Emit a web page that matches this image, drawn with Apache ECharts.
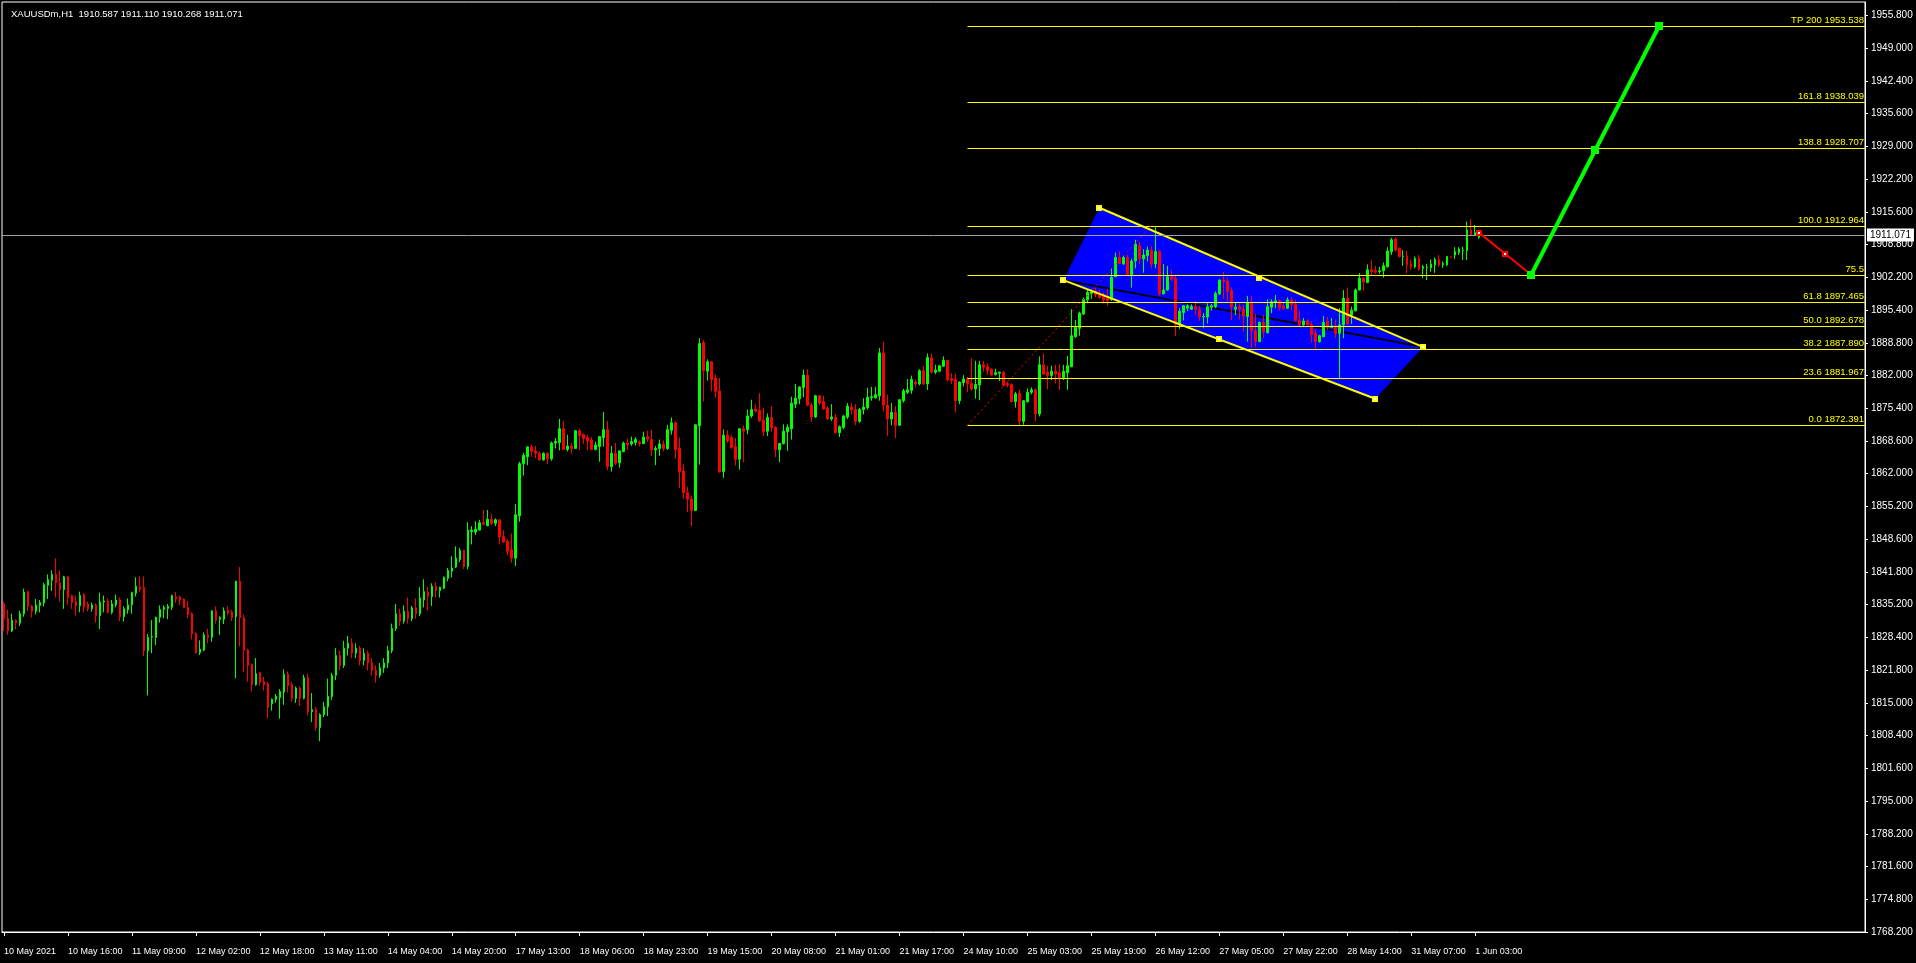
<!DOCTYPE html>
<html><head><meta charset="utf-8">
<script src="https://cdn.jsdelivr.net/npm/echarts@6/dist/echarts.min.js"></script>
<style>html,body{margin:0;padding:0;background:#000;}#chart{width:1916px;height:963px;}</style>
</head><body><div id="chart"></div>
<script>
const SYMBOL = 'XAUUSDm,H1';
const FONT = '"Liberation Sans", Arial, sans-serif';
// price axis labels, top to bottom
const Y_LABELS = ['1955.800','1949.000','1942.400','1935.600','1929.000','1922.200','1915.600','1908.800','1902.200','1895.400','1888.800','1882.000','1875.400','1868.600','1862.000','1855.200','1848.600','1841.800','1835.200','1828.400','1821.800','1815.000','1808.400','1801.600','1795.000','1788.200','1781.600','1774.800','1768.200'];
const Y_MIN = 1769.43, Y_MAX = 1958.42;
const Y_STEP = Y_MIN / 266;
// time axis labels (one every 16 bars)
const X_LABELS = ['10 May 2021','10 May 16:00','11 May 09:00','12 May 02:00','12 May 18:00','13 May 11:00','14 May 04:00','14 May 20:00','17 May 13:00','18 May 06:00','18 May 23:00','19 May 15:00','20 May 08:00','21 May 01:00','21 May 17:00','24 May 10:00','25 May 03:00','25 May 19:00','26 May 12:00','27 May 05:00','27 May 22:00','28 May 14:00','31 May 07:00','1 Jun 03:00'];
const X_LABEL_STEP = 16;
const TOTAL_SLOTS = 466;
// H1 candles: [open, close, low, high]
const CANDLES = [
[1836.1,1833.1,1830.6,1836.6],[1833.1,1830.6,1829.8,1834.9],[1830.6,1832.8,1830.4,1834.1],[1832.8,1832.2,1830.9,1833.0],[1832.2,1834.1,1831.6,1834.7],
[1834.1,1838.5,1833.5,1839.2],[1838.6,1835.6,1834.6,1838.8],[1835.7,1834.6,1833.3,1835.9],[1834.6,1835.9,1834.0,1837.1],[1835.8,1836.4,1834.4,1836.9],
[1836.3,1840.0,1835.6,1840.4],[1839.9,1841.0,1837.1,1842.1],[1840.9,1842.1,1838.7,1842.9],[1842.1,1840.4,1837.4,1845.4],[1840.4,1839.0,1836.6,1842.9],
[1839.0,1841.6,1835.1,1841.8],[1841.6,1837.4,1835.9,1841.8],[1837.8,1836.4,1835.1,1838.0],[1836.6,1835.7,1833.7,1837.8],[1835.7,1837.8,1834.4,1838.6],
[1838.0,1835.4,1834.4,1838.3],[1836.1,1835.1,1834.6,1836.6],[1835.1,1835.9,1834.5,1836.4],[1835.9,1833.7,1832.3,1836.2],[1833.7,1836.5,1831.0,1838.4],
[1836.5,1836.7,1834.4,1837.8],[1836.7,1834.4,1834.2,1837.2],[1834.4,1836.1,1834.0,1836.9],[1835.9,1836.9,1835.4,1838.0],[1836.9,1833.5,1832.6,1837.4],
[1833.5,1835.1,1832.5,1835.6],[1834.9,1835.9,1834.1,1837.2],[1835.9,1838.4,1834.1,1838.6],[1838.3,1839.7,1837.6,1841.5],[1839.5,1839.1,1838.5,1841.7],
[1839.5,1826.6,1825.5,1841.7],[1826.6,1829.3,1817.5,1830.0],[1829.4,1829.5,1826.1,1832.8],[1829.3,1833.4,1827.7,1833.5],[1833.4,1835.0,1832.3,1835.8],
[1835.0,1835.4,1833.2,1835.8],[1835.2,1835.6,1833.0,1836.1],[1835.4,1837.8,1834.9,1838.0],[1837.5,1837.1,1836.3,1838.5],[1837.5,1836.9,1835.9,1837.8],
[1837.1,1835.4,1835.2,1837.2],[1835.4,1833.9,1833.2,1836.7],[1834.1,1830.1,1828.9,1834.4],[1830.1,1826.2,1826.0,1830.3],[1826.2,1826.9,1825.7,1828.7],
[1826.7,1829.8,1826.5,1830.3],[1829.8,1829.3,1828.1,1831.0],[1829.3,1834.7,1828.4,1834.8],[1834.7,1832.8,1832.1,1835.6],[1833.0,1833.3,1829.8,1833.6],
[1833.0,1834.7,1832.0,1835.4],[1834.8,1834.3,1833.8,1835.6],[1834.5,1833.3,1832.6,1834.9],[1833.5,1840.7,1821.0,1840.8],[1840.7,1833.3,1827.5,1843.6],
[1833.3,1826.7,1822.3,1833.9],[1826.7,1823.6,1820.3,1827.0],[1823.8,1819.7,1818.3,1824.0],[1819.7,1821.9,1819.5,1825.1],[1822.1,1820.2,1819.5,1822.3],
[1820.3,1819.7,1818.5,1821.3],[1819.9,1815.1,1812.8,1820.3],[1815.8,1816.7,1814.4,1816.9],[1816.7,1817.3,1816.0,1817.8],[1817.1,1818.3,1812.8,1818.8],
[1818.2,1821.8,1815.6,1822.8],[1821.8,1819.5,1818.1,1822.4],[1819.7,1816.9,1816.3,1820.2],[1816.9,1819.0,1816.0,1819.3],[1819.0,1816.9,1815.4,1819.3],
[1816.9,1821.1,1816.7,1821.7],[1821.1,1814.2,1813.4,1821.9],[1814.2,1814.6,1812.1,1818.0],[1814.7,1811.0,1810.3,1815.2],[1811.0,1813.6,1808.2,1813.9],
[1813.6,1815.2,1813.1,1816.2],[1815.2,1817.3,1813.3,1820.9],[1817.3,1821.6,1816.6,1822.1],[1821.6,1825.6,1820.6,1827.1],[1825.6,1823.6,1822.6,1826.6],
[1823.6,1827.1,1823.1,1828.6],[1827.1,1828.1,1825.6,1829.6],[1828.1,1826.1,1825.1,1829.1],[1826.1,1827.1,1825.1,1828.1],[1827.1,1824.6,1823.6,1827.6],
[1824.6,1826.1,1823.6,1827.1],[1826.1,1824.1,1822.6,1826.6],[1824.1,1822.6,1821.6,1825.1],[1822.6,1821.6,1820.1,1823.6],[1821.6,1823.1,1821.1,1824.1],
[1823.1,1824.1,1822.1,1825.1],[1824.1,1826.6,1823.1,1827.6],[1826.6,1831.1,1826.1,1832.1],[1831.1,1834.1,1830.6,1836.1],[1834.1,1832.6,1831.6,1835.1],
[1832.6,1834.6,1832.1,1835.8],[1834.6,1833.1,1832.1,1837.4],[1833.1,1835.3,1832.6,1835.7],[1835.3,1834.1,1833.1,1837.2],[1834.1,1837.3,1833.6,1839.5],
[1836.9,1838.6,1835.4,1841.1],[1838.5,1837.6,1834.7,1839.6],[1837.6,1839.7,1835.7,1840.3],[1839.7,1838.8,1837.4,1840.5],[1838.8,1839.5,1837.4,1839.6],
[1839.3,1841.5,1839.1,1841.7],[1841.3,1842.9,1840.7,1843.4],[1842.8,1843.4,1841.5,1845.8],[1843.6,1845.4,1843.4,1847.8],[1845.1,1847.0,1844.6,1847.5],
[1847.0,1843.7,1843.2,1847.1],[1843.7,1851.1,1843.1,1852.7],[1850.8,1851.1,1848.2,1851.9],[1850.7,1851.3,1850.1,1852.9],[1851.1,1852.6,1851.1,1853.2],
[1852.6,1852.3,1852.1,1855.2],[1852.0,1853.3,1851.9,1855.2],[1853.3,1852.5,1852.1,1854.4],[1852.5,1853.2,1851.9,1853.5],[1853.2,1849.7,1848.2,1853.2],
[1849.8,1848.7,1848.5,1851.1],[1848.8,1846.8,1846.0,1849.3],[1847.1,1845.4,1844.5,1850.4],[1845.4,1854.2,1843.8,1856.4],[1854.0,1864.6,1852.8,1865.0],
[1864.6,1866.3,1862.2,1866.8],[1866.0,1868.0,1864.3,1868.1],[1868.0,1867.1,1866.0,1868.4],[1867.2,1866.7,1865.7,1868.2],[1866.7,1865.4,1865.2,1867.1],
[1865.4,1866.7,1865.2,1866.9],[1866.7,1865.6,1864.5,1866.9],[1865.6,1868.8,1865.2,1869.1],[1868.8,1869.1,1867.7,1869.8],[1868.9,1871.7,1867.3,1873.7],
[1871.7,1867.5,1867.4,1873.3],[1867.5,1868.2,1867.1,1870.5],[1868.2,1867.7,1866.6,1868.8],[1867.7,1871.3,1867.6,1871.4],[1871.3,1870.3,1867.4,1871.7],
[1870.5,1869.7,1868.6,1870.8],[1869.9,1869.2,1867.3,1870.5],[1869.4,1867.5,1867.4,1870.0],[1867.5,1868.4,1867.3,1869.1],[1868.1,1870.1,1865.0,1870.2],
[1869.9,1871.5,1868.1,1875.1],[1871.5,1864.0,1863.3,1873.3],[1864.0,1866.7,1863.0,1868.2],[1866.7,1864.7,1864.3,1868.8],[1864.8,1867.2,1863.8,1867.3],
[1867.1,1868.8,1866.9,1869.1],[1868.8,1868.4,1867.4,1869.7],[1868.6,1869.1,1868.2,1870.1],[1868.9,1869.5,1868.3,1870.0],[1869.0,1868.7,1868.1,1869.3],
[1868.7,1870.0,1868.6,1871.1],[1870.1,1869.6,1869.0,1871.3],[1869.5,1867.4,1866.2,1871.5],[1867.4,1867.7,1864.3,1868.2],[1867.7,1868.6,1866.2,1869.5],
[1868.6,1867.7,1867.1,1869.3],[1867.7,1871.5,1867.4,1872.5],[1871.4,1872.9,1870.5,1874.0],[1872.9,1867.5,1865.6,1873.2],[1867.7,1863.0,1859.7,1869.9],
[1863.1,1858.7,1857.5,1864.5],[1858.7,1857.4,1854.8,1859.9],[1857.4,1855.1,1851.9,1858.1],[1855.1,1872.5,1855.0,1872.6],[1872.3,1889.0,1864.4,1890.1],
[1889.2,1883.5,1877.2,1889.7],[1883.4,1885.3,1881.5,1885.8],[1885.3,1881.7,1879.3,1885.4],[1882.0,1879.3,1878.0,1882.7],[1879.4,1862.9,1862.8,1882.0],
[1863.0,1870.4,1861.7,1871.6],[1870.4,1869.2,1868.8,1871.4],[1869.9,1867.9,1867.6,1870.5],[1868.1,1865.5,1864.2,1869.8],[1865.5,1871.7,1863.4,1871.8],
[1871.7,1871.2,1864.9,1872.4],[1871.5,1874.3,1870.6,1875.6],[1874.3,1875.6,1873.9,1877.6],[1875.7,1875.3,1875.0,1876.7],[1875.5,1873.3,1873.1,1878.9],
[1873.5,1871.1,1870.2,1875.9],[1871.2,1874.0,1870.2,1874.8],[1874.0,1871.9,1871.1,1876.3],[1872.0,1867.5,1865.9,1872.2],[1867.4,1868.7,1864.9,1868.8],
[1868.7,1871.2,1868.5,1872.6],[1871.1,1872.0,1867.2,1872.6],[1871.7,1876.9,1869.5,1878.2],[1876.7,1877.9,1875.9,1880.8],[1877.8,1880.2,1876.7,1880.3],
[1880.1,1882.6,1878.1,1883.7],[1882.6,1876.5,1876.3,1883.8],[1876.5,1874.1,1873.1,1877.0],[1874.1,1878.4,1873.9,1878.6],[1878.4,1876.9,1876.5,1878.5],
[1877.2,1875.7,1875.6,1878.4],[1875.9,1873.7,1873.5,1876.3],[1873.7,1874.1,1873.3,1876.7],[1874.0,1870.9,1870.7,1874.7],[1870.9,1872.1,1870.0,1872.4],
[1872.0,1874.3,1871.6,1874.5],[1874.1,1876.3,1873.7,1876.9],[1876.1,1875.5,1874.6,1876.9],[1875.6,1873.2,1872.4,1876.7],[1873.2,1875.6,1872.9,1875.9],
[1875.6,1876.1,1874.6,1877.9],[1876.0,1878.1,1875.6,1880.0],[1878.0,1878.2,1877.4,1880.2],[1878.0,1878.6,1877.8,1880.2],[1878.4,1887.1,1877.4,1888.1],
[1887.1,1876.5,1875.2,1889.4],[1876.5,1873.7,1870.2,1878.6],[1873.7,1875.0,1872.4,1876.9],[1875.0,1872.4,1869.8,1876.3],[1872.4,1877.6,1872.4,1877.7],
[1877.4,1879.4,1877.0,1879.8],[1879.1,1879.6,1878.8,1881.8],[1879.5,1881.7,1878.8,1882.5],[1881.2,1880.8,1880.1,1881.7],[1880.8,1883.5,1880.5,1883.8],
[1883.5,1880.8,1880.6,1884.4],[1880.8,1886.2,1879.6,1887.0],[1886.1,1883.2,1882.9,1887.0],[1883.2,1883.6,1882.8,1884.7],[1883.4,1884.5,1883.2,1884.7],
[1884.4,1885.6,1884.3,1886.4],[1885.6,1881.7,1881.3,1885.7],[1881.9,1881.5,1880.8,1883.0],[1881.7,1877.4,1875.0,1882.9],[1877.4,1881.2,1876.7,1881.3],
[1881.1,1881.8,1880.3,1882.6],[1881.8,1880.8,1879.2,1882.2],[1880.9,1879.8,1879.4,1886.0],[1879.8,1880.7,1877.8,1885.5],[1880.6,1884.7,1877.5,1885.5],
[1884.7,1884.2,1883.3,1885.5],[1884.3,1883.6,1882.6,1885.0],[1883.8,1882.6,1882.5,1884.0],[1882.7,1883.1,1882.5,1883.9],[1883.0,1883.2,1881.4,1883.3],
[1883.2,1880.5,1880.3,1883.4],[1880.9,1880.6,1880.1,1881.3],[1880.7,1877.2,1877.1,1880.9],[1877.2,1878.8,1876.0,1879.2],[1878.9,1873.2,1872.5,1879.7],
[1873.2,1877.4,1872.5,1877.5],[1877.2,1879.1,1877.0,1879.9],[1879.1,1879.6,1878.7,1880.1],[1879.6,1874.7,1873.2,1879.9],[1874.7,1884.7,1874.2,1886.4],
[1884.7,1882.8,1882.6,1887.0],[1883.2,1882.5,1879.7,1884.5],[1882.5,1883.4,1881.6,1884.5],[1883.4,1882.8,1880.9,1884.7],[1883.1,1882.1,1879.6,1884.8],
[1882.1,1883.4,1881.6,1884.7],[1883.1,1884.5,1879.6,1886.5],[1884.3,1890.6,1884.2,1896.0],[1890.4,1892.3,1890.2,1893.8],[1892.1,1895.2,1890.6,1895.5],
[1895.0,1898.0,1894.8,1898.4],[1897.9,1899.4,1897.2,1900.0],[1899.2,1899.6,1898.1,1900.0],[1899.6,1898.9,1898.4,1900.4],[1898.9,1898.4,1898.1,1900.0],
[1898.6,1897.9,1897.1,1899.4],[1898.2,1897.7,1896.7,1900.1],[1897.9,1902.5,1897.7,1904.3],[1902.6,1906.5,1902.5,1907.5],[1906.5,1905.3,1905.1,1907.7],
[1905.2,1906.5,1905.0,1906.8],[1906.5,1903.0,1902.8,1907.0],[1903.0,1905.8,1900.4,1906.3],[1905.8,1909.2,1904.3,1910.1],[1909.0,1906.2,1905.1,1909.7],
[1906.2,1907.0,1903.4,1908.2],[1906.9,1908.0,1905.7,1908.7],[1908.0,1905.2,1904.3,1908.8],[1905.2,1907.7,1904.3,1912.8],[1907.7,1899.1,1898.7,1908.0],
[1899.1,1899.9,1899.0,1905.2],[1899.9,1902.6,1899.8,1904.8],[1902.6,1902.1,1901.6,1904.0],[1902.3,1892.9,1890.5,1903.0],[1892.9,1895.6,1892.0,1896.2],
[1895.3,1896.7,1893.7,1896.8],[1896.2,1896.7,1895.6,1897.0],[1896.0,1896.5,1895.8,1897.0],[1896.5,1896.0,1894.8,1897.7],[1896.0,1894.4,1893.6,1896.7],
[1894.4,1894.5,1892.1,1895.2],[1894.4,1896.5,1893.1,1897.2],[1896.4,1896.7,1895.7,1897.1],[1896.5,1899.2,1896.2,1899.6],[1899.1,1901.9,1898.9,1902.1],
[1901.9,1901.6,1898.1,1903.6],[1901.7,1899.6,1897.5,1902.4],[1899.8,1896.4,1893.8,1900.4],[1896.0,1896.4,1894.8,1897.3],[1896.5,1896.0,1893.9,1897.1],
[1896.0,1894.6,1891.4,1896.9],[1894.5,1897.3,1889.4,1898.7],[1897.3,1891.6,1888.1,1898.7],[1891.6,1889.4,1888.3,1895.0],[1889.4,1893.3,1889.3,1893.5],
[1893.3,1891.4,1890.1,1894.8],[1891.2,1896.5,1891.1,1898.0],[1896.4,1897.5,1895.2,1898.0],[1897.4,1897.7,1896.2,1898.9],[1897.7,1896.3,1895.7,1898.0],
[1896.6,1896.2,1895.8,1897.3],[1896.2,1897.9,1896.0,1898.4],[1897.9,1896.9,1895.8,1898.4],[1897.0,1893.7,1893.5,1897.9],[1893.8,1892.8,1892.6,1895.8],
[1892.8,1893.6,1892.6,1894.2],[1893.6,1892.8,1892.6,1894.0],[1892.9,1890.8,1889.2,1893.5],[1891.1,1889.4,1887.6,1891.9],[1889.4,1890.6,1889.2,1890.8],
[1890.4,1893.3,1890.3,1894.6],[1893.5,1892.3,1891.8,1894.4],[1892.3,1892.6,1892.2,1894.2],[1892.6,1891.1,1890.2,1893.9],[1891.1,1892.8,1881.9,1896.2],
[1892.8,1898.2,1890.1,1899.9],[1898.2,1893.0,1892.8,1900.4],[1894.8,1895.8,1893.0,1896.5],[1895.7,1899.9,1895.5,1900.2],[1899.9,1902.3,1899.8,1903.3],
[1902.3,1901.5,1899.8,1902.5],[1901.4,1904.0,1901.3,1905.1],[1904.0,1903.6,1902.9,1906.0],[1903.8,1903.5,1903.2,1904.8],[1903.6,1903.8,1903.2,1904.6],
[1903.8,1904.8,1902.4,1905.5],[1904.6,1907.8,1904.5,1908.6],[1907.7,1910.1,1907.0,1910.5],[1910.2,1908.0,1907.7,1910.5],[1908.4,1906.7,1906.5,1908.5],
[1906.7,1906.8,1904.8,1908.0],[1906.8,1905.0,1903.3,1907.9],[1905.2,1904.6,1904.0,1906.1],[1904.6,1906.3,1904.3,1906.7],[1906.3,1904.1,1903.8,1907.0],
[1904.3,1904.6,1902.3,1905.0],[1904.4,1904.5,1901.9,1905.2],[1904.4,1905.2,1903.6,1906.1],[1905.0,1906.1,1903.4,1906.5],[1906.1,1905.0,1904.6,1907.0],
[1905.0,1905.3,1904.4,1905.7],[1905.0,1906.7,1904.8,1906.8],[1906.6,1906.5,1906.4,1906.7],[1907.0,1907.7,1906.2,1908.6],[1907.5,1908.2,1907.0,1908.6],
[1907.9,1908.0,1906.0,1908.7],[1907.9,1912.1,1906.0,1913.8],[1912.1,1911.1,1910.9,1914.3],[1911.0,1911.6,1910.9,1913.1],[1910.587,1911.071,1910.268,1911.110]
];
const BID = 1911.071;
// Fibonacci levels drawn from bar FIB_START to the right edge
const FIB_START = 241;
const FIB_VALUES = [1953.538,1938.039,1928.707,1912.964,1903.02,1897.465,1892.678,1887.890,1881.967,1872.391];
const FIB_LABELS = ['TP 200 1953.538','161.8 1938.039','138.8 1928.707','100.0 1912.964','75.5','61.8 1897.465','50.0 1892.678','38.2 1887.890','23.6 1881.967','0.0 1872.391'];
const FIB_ANCHOR = [[241,1872.391],[287,1912.964]];
// channel: left, top, right, bottom vertices [bar, price]
const CHANNEL = [[265,1901.9],[274,1916.6],[355,1888.3],[343,1877.8]];
const CHANNEL_HANDLES = [[314,1902.4],[304,1890.0]];
const RED_PATH = [[369,1911.5],[382,1903.0]];
const GREEN_PATH = [[382,1903.0],[414,1953.538]];

const SLOTS = Array.from({length: TOTAL_SLOTS}, (_, i) => String(i));
const last = CANDLES[CANDLES.length - 1];
const TITLE = SYMBOL + '  ' + [last[0], last[3], last[2], last[1]].map(v => v.toFixed(3)).join(' ');

function isLabelIdx(i) { return i % X_LABEL_STEP === 0 && i / X_LABEL_STEP < X_LABELS.length; }
function sq(c, size, fill, inner) {
  const els = [{type:'rect', shape:{x:Math.round(c[0]-size/2), y:Math.round(c[1]-size/2), width:size, height:size}, style:{fill:fill}}];
  if (inner) els.push({type:'rect', shape:{x:Math.round(c[0]-1), y:Math.round(c[1]-1), width:2, height:2}, style:{fill:inner}});
  return els;
}
function seg(a, b, stroke, w, dash) {
  return {type:'line', shape:{x1:a[0], y1:a[1], x2:b[0], y2:b[1]}, style:{stroke:stroke, lineWidth:w, lineDash:dash || null}};
}

const chart = echarts.init(document.getElementById('chart'), null, {renderer:'canvas'});
chart.setOption({
  backgroundColor: '#000',
  animation: false,
  title: {text: TITLE, left: 6, top: 4, textStyle: {color:'#fff', fontSize: 9.5, fontWeight:'normal', fontFamily: FONT}},
  grid: {left: 2, top: 2, width: 1863, height: 930, show: true, borderColor: '#fff', borderWidth: 1, backgroundColor: 'transparent'},
  xAxis: {
    type: 'category', data: SLOTS, boundaryGap: true,
    axisLine: {show: true, lineStyle: {color: '#fff'}},
    axisTick: {show: true, alignWithLabel: true, length: 4, interval: (i) => isLabelIdx(i), lineStyle: {color: '#fff'}},
    axisLabel: {show: true, interval: (i) => isLabelIdx(i), formatter: (v) => X_LABELS[Number(v) / X_LABEL_STEP] || '',
      align: 'left', color: '#fff', fontSize: 9, fontFamily: FONT, margin: 15},
    splitLine: {show: false}
  },
  yAxis: {
    type: 'value', position: 'right', min: Y_MIN, max: Y_MAX, interval: Y_STEP,
    axisLine: {show: true, lineStyle: {color: '#fff'}},
    axisTick: {show: true, length: 3, lineStyle: {color: '#fff'}},
    axisLabel: {show: true, color: '#fff', fontSize: 10, fontFamily: FONT, margin: 6, showMaxLabel: false,
      formatter: (v) => {
        const i = Math.round((v - Y_MIN) / Y_STEP);
        if (i < 0 || i >= Y_LABELS.length || Math.abs(v - (Y_MIN + i * Y_STEP)) > Y_STEP * 0.1) return '';
        return Y_LABELS[Y_LABELS.length - 1 - i];
      }},
    splitLine: {show: false}
  },
  series: [
    {
      name: 'channelFill', type: 'custom', z: 1, silent: true,
      data: [CHANNEL[0]], encode: {x: 0, y: 1},
      renderItem: (params, api) => {
        const p = CHANNEL.map(c => api.coord(c));
        return {type: 'group', children: [
          {type: 'polygon', shape: {points: p}, style: {fill: '#0000ff'}},
          seg(p[0], p[2], '#000000', 2)
        ]};
      }
    },
    {
      name: 'XAUUSDm', type: 'candlestick', z: 2, barWidth: 2,
      data: CANDLES,
      itemStyle: {color: '#00ff00', color0: '#ff0000', borderColor: '#00ff00', borderColor0: '#ff0000', borderWidth: 1},
      markLine: {
        silent: true, symbol: 'none', animation: false,
        lineStyle: {color: '#a0a0a0', width: 1, type: 'solid'},
        label: {show: true, position: 'end', distance: 2, formatter: () => BID.toFixed(3),
          color: '#000', backgroundColor: '#fff', padding: [2, 3, 1, 3], fontSize: 10, fontFamily: FONT},
        data: [{yAxis: BID}]
      }
    },
    {
      name: 'fibo', type: 'custom', z: 3, silent: true,
      data: FIB_VALUES.map((v, i) => [FIB_START, v, i]), encode: {x: 0, y: 1},
      renderItem: (params, api) => {
        const s = api.coord([api.value(0), api.value(1)]);
        const right = params.coordSys.x + params.coordSys.width;
        const y = Math.round(s[1]) + 0.5;
        return {type: 'group', children: [
          {type: 'line', shape: {x1: s[0], y1: y, x2: right, y2: y}, style: {stroke: '#ffff00', lineWidth: 1}},
          {type: 'text', x: right - 1, y: y - 1, style: {text: FIB_LABELS[api.value(2)], fill: '#ffff00',
            font: '9.5px ' + FONT, align: 'right', verticalAlign: 'bottom', textAlign: 'right', textVerticalAlign: 'bottom'}}
        ]};
      }
    },
    {
      name: 'channelLines', type: 'custom', z: 4, silent: true,
      data: [CHANNEL[0]], encode: {x: 0, y: 1},
      renderItem: (params, api) => {
        const p = CHANNEL.map(c => api.coord(c));
        const h = CHANNEL_HANDLES.map(c => api.coord(c));
        const fa = FIB_ANCHOR.map(c => api.coord(c));
        let kids = [
          seg(fa[0], fa[1], '#ff0000', 1, [2, 3]),
          seg(p[1], p[2], '#ffff00', 2),
          seg(p[0], p[3], '#ffff00', 2)
        ];
        p.concat(h).forEach(c => { kids = kids.concat(sq(c, 6, '#ffff00', '#ffffff')); });
        return {type: 'group', children: kids};
      }
    },
    {
      name: 'projection', type: 'custom', z: 5, silent: true,
      data: [RED_PATH[0]], encode: {x: 0, y: 1},
      renderItem: (params, api) => {
        const r = RED_PATH.map(c => api.coord(c));
        const g = GREEN_PATH.map(c => api.coord(c));
        const rm = [(r[0][0] + r[1][0]) / 2, (r[0][1] + r[1][1]) / 2];
        const gm = [(g[0][0] + g[1][0]) / 2, (g[0][1] + g[1][1]) / 2];
        let kids = [seg(r[0], r[1], '#ff0000', 2), seg(g[0], g[1], '#00ff00', 4)];
        kids = kids.concat(sq(r[0], 6, '#ff0000', '#ffffff'), sq(rm, 6, '#ff0000', '#ffffff'));
        kids = kids.concat(sq(g[0], 8, '#00ff00'), sq(gm, 8, '#00ff00'), sq(g[1], 8, '#00ff00'));
        return {type: 'group', children: kids};
      }
    }
  ]
});
</script></body></html>
